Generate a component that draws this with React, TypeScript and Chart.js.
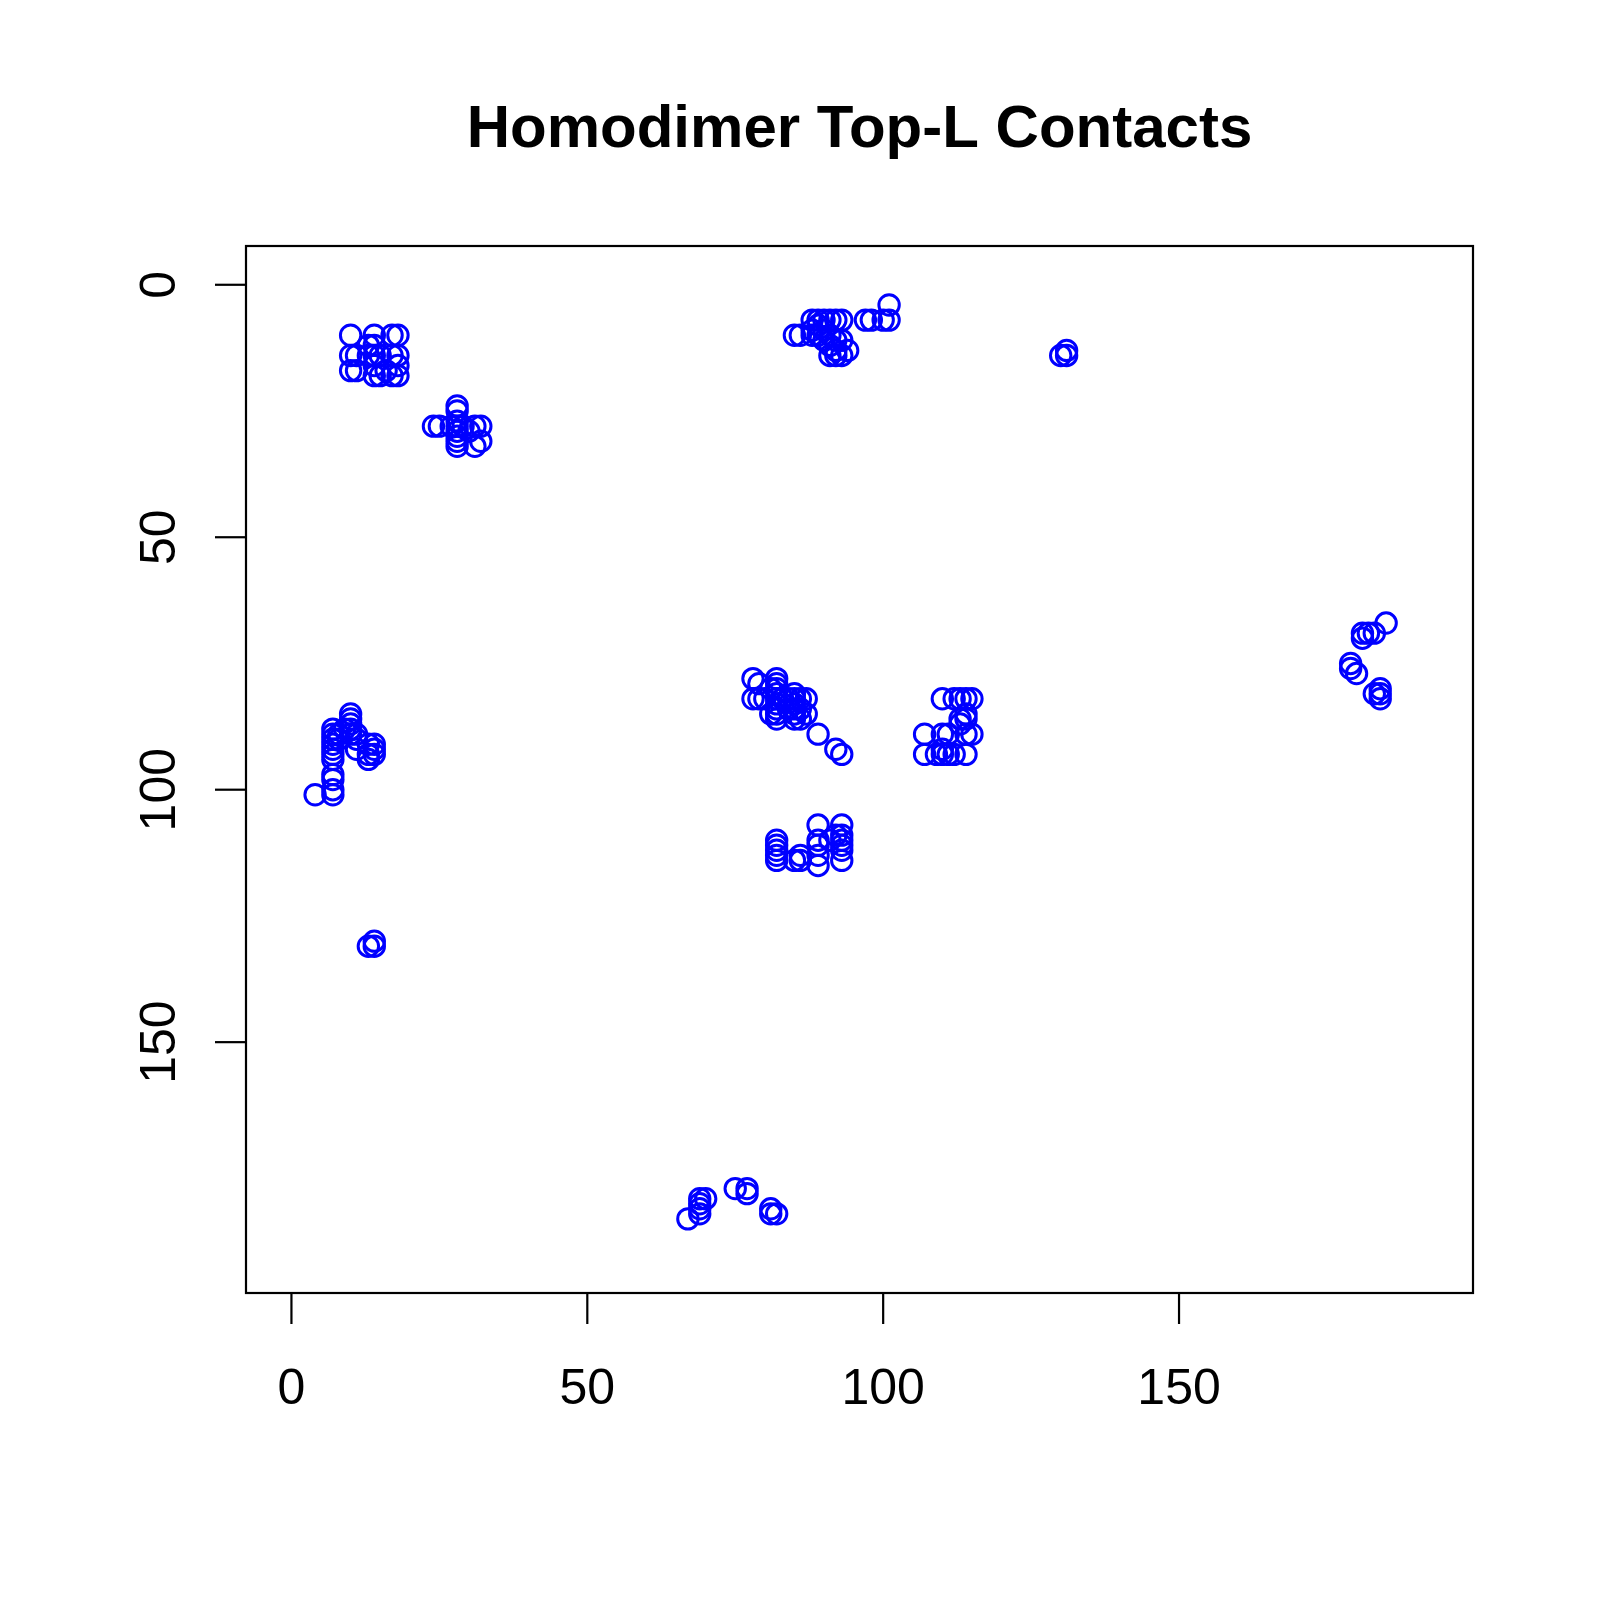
import React, { useEffect, useRef } from "react";
import { Chart, registerables } from "chart.js";

Chart.register(...registerables);

const chartTitle = "Homodimer Top-L Contacts";
const xTicks = [0, 50, 100, 150];
const yTicks = [0, 50, 100, 150];
const axisMin = -7.68;
const axisMax = 199.68;

// residue i (x) and residue j (y) of each predicted contact
const residueI = [
  // top-left block
  10, 10, 10, 11, 11, 14, 14, 14, 14, 14, 13, 13, 15, 15, 17, 18, 17, 18, 18, 17, 18, 16,
  // second block
  24, 25, 28, 31, 32, 28, 28, 28, 28, 28, 28, 28, 31, 32, 27, 29, 30,
  // top middle
  85, 86, 88, 89, 90, 91, 92, 93, 88, 88, 89, 89, 90, 90, 91, 91, 92, 92, 91, 92, 93, 94, 93, 97, 98, 100, 101, 101,
  // far right top
  130, 131, 131,
  // left middle
  4, 7, 7, 7, 7, 7, 7, 7, 7, 7, 7, 7, 8, 8, 10, 10, 10, 10, 10, 11, 11, 9, 11, 13, 14, 13, 14, 13, 14,
  // left lower
  13, 14, 14,
  // centre block
  78, 79, 78, 79, 80, 81, 81, 82, 82, 82, 82, 82, 82, 82, 82, 82, 83, 84, 84, 85, 85, 85, 85, 85, 85, 86, 86, 86, 87, 87, 89, 92, 93,
  // block right of centre
  110, 112, 113, 114, 115, 113, 114, 114, 113, 107, 110, 111, 114, 115, 107, 109, 110, 111, 112, 110, 114,
  // block below centre
  82, 82, 82, 82, 82, 85, 86, 86, 89, 89, 89, 89, 89, 91, 92, 93, 93, 93, 93, 93, 93,
  // right side
  185, 183, 182, 181, 181, 179, 179, 180, 183, 184, 184, 184,
  // bottom
  67, 69, 69, 69, 70, 69, 75, 77, 77, 81, 82, 81,
];

const residueJ = [
  // top-left block
  10, 14, 17, 17, 14, 10, 12, 14, 16, 18, 14, 12, 14, 18, 10, 10, 14, 14, 16, 18, 18, 17,
  // second block
  28, 28, 28, 28, 28, 24, 25, 27, 29, 30, 31, 32, 32, 31, 28, 28, 29,
  // top middle
  10, 10, 7, 7, 7, 7, 7, 7, 9, 10, 10, 8, 9, 11, 10, 12, 11, 13, 14, 14, 14, 13, 11, 7, 7, 7, 7, 4,
  // far right top
  14, 13, 14,
  // left middle
  101, 100, 101, 98, 97, 88, 89, 90, 91, 92, 93, 94, 90, 89, 85, 86, 87, 88, 89, 90, 89, 88, 92, 91, 91, 93, 92, 94, 93,
  // left lower
  131, 131, 130,
  // centre block
  78, 79, 82, 82, 82, 80, 85, 78, 79, 80, 81, 82, 83, 84, 85, 86, 82, 82, 84, 81, 82, 83, 84, 85, 86, 82, 84, 86, 82, 85, 89, 92, 93,
  // block right of centre
  82, 82, 82, 82, 82, 86, 86, 85, 87, 89, 89, 89, 89, 89, 93, 93, 93, 93, 93, 92, 93,
  // block below centre
  110, 111, 112, 113, 114, 114, 114, 113, 107, 110, 111, 113, 115, 110, 109, 107, 109, 110, 111, 112, 114,
  // right side
  67, 69, 69, 69, 70, 75, 76, 77, 81, 81, 82, 80,
  // bottom
  185, 182, 183, 184, 181, 181, 179, 179, 180, 183, 184, 184,
];

const framePlugin = {
  id: "rFrame",
  afterDraw(chart: any) {
    const { ctx, chartArea: a, scales } = chart;
    ctx.save();
    ctx.strokeStyle = "#000";
    ctx.fillStyle = "#000";
    ctx.lineWidth = 2.2;
    ctx.strokeRect(a.left, a.top, a.right - a.left, a.bottom - a.top);

    const tickLen = 31;
    ctx.font = '50px "Liberation Sans", Arial, Helvetica, sans-serif';
    ctx.textAlign = "center";
    ctx.textBaseline = "middle";
    for (const v of xTicks) {
      const px = scales.x.getPixelForValue(v);
      ctx.beginPath();
      ctx.moveTo(px, a.bottom);
      ctx.lineTo(px, a.bottom + tickLen);
      ctx.stroke();
      ctx.fillText(String(v), px, a.bottom + 97);
    }
    for (const v of yTicks) {
      const py = scales.y.getPixelForValue(v);
      ctx.beginPath();
      ctx.moveTo(a.left - tickLen, py);
      ctx.lineTo(a.left, py);
      ctx.stroke();
      ctx.save();
      ctx.translate(a.left - 85, py);
      ctx.rotate(-Math.PI / 2);
      ctx.fillText(String(v), 0, 0);
      ctx.restore();
    }

    ctx.font = 'bold 60px "Liberation Sans", Arial, Helvetica, sans-serif';
    ctx.fillText(chartTitle, (a.left + a.right) / 2, 130);
    ctx.restore();
  },
};

export default function App() {
  const canvasRef = useRef<HTMLCanvasElement | null>(null);

  useEffect(() => {
    const canvas = canvasRef.current;
    if (!canvas) return;
    const points = residueI.map((x, i) => ({ x, y: residueJ[i] }));
    const chart = new Chart(canvas, {
      type: "scatter",
      data: {
        datasets: [
          {
            label: "contacts",
            data: points,
            pointStyle: "circle",
            pointRadius: 10.2,
            pointHoverRadius: 10.2,
            pointBorderWidth: 3,
            borderWidth: 3,
            pointBorderColor: "#0000ff",
            borderColor: "#0000ff",
            pointBackgroundColor: "rgba(0,0,0,0)",
            backgroundColor: "rgba(0,0,0,0)",
          },
        ],
      },
      options: {
        responsive: false,
        animation: false,
        devicePixelRatio: 1,
        layout: { padding: { left: 246, right: 127, top: 246, bottom: 307 } },
        plugins: {
          legend: { display: false },
          title: { display: false },
          tooltip: { enabled: false },
        },
        scales: {
          x: { type: "linear", min: axisMin, max: axisMax, display: false },
          y: { type: "linear", min: axisMin, max: axisMax, reverse: true, display: false },
        },
      },
      plugins: [framePlugin],
    });
    return () => chart.destroy();
  }, []);

  return (
    <div style={{ position: "absolute", left: 0, top: 0, width: 1600, height: 1600, background: "#fff" }}>
      <canvas ref={canvasRef} width={1600} height={1600} />
    </div>
  );
}
